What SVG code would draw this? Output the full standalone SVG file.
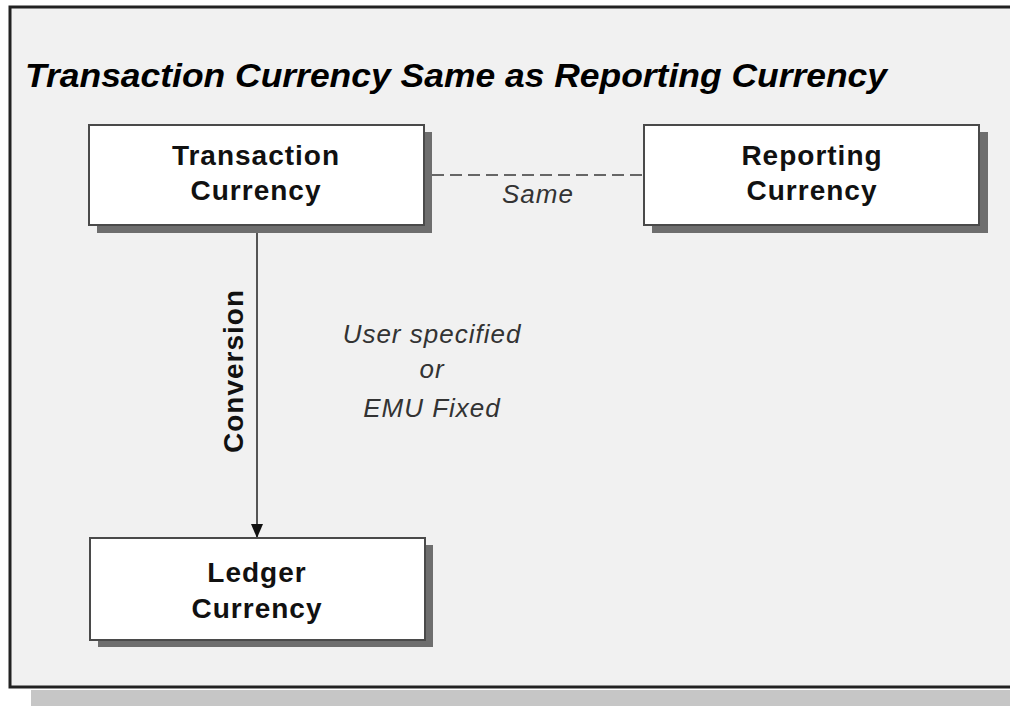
<svg xmlns="http://www.w3.org/2000/svg" width="1010" height="706" viewBox="0 0 1010 706">
<defs>
<style>
.box{fill:#ffffff;stroke:#4a4a4a;stroke-width:2}
.shadow{fill:#6e6e6e}
.lbl{font-family:"Liberation Sans",Arial,sans-serif;font-size:28px;font-weight:bold;fill:#111;text-anchor:middle;letter-spacing:1px}
.it{font-family:"Liberation Sans",Arial,sans-serif;font-size:26px;font-style:italic;fill:#333;text-anchor:middle;letter-spacing:1px}
</style>
<marker id="arr" markerWidth="14" markerHeight="14" refX="13" refY="7" orient="auto" markerUnits="userSpaceOnUse">
<path d="M0,1 L14,7 L0,13 Z" fill="#111"/>
</marker>
</defs>
<rect x="0" y="0" width="1010" height="706" fill="#ffffff"/>
<rect x="31" y="690" width="979" height="16" fill="#c6c6c6"/>
<rect x="10" y="7" width="1010" height="680" fill="#f1f1f1" stroke="#222" stroke-width="3"/>
<text x="25" y="87" font-family="'Liberation Sans',Arial,sans-serif" font-size="33" font-weight="bold" font-style="italic" fill="#000" textLength="862" lengthAdjust="spacingAndGlyphs">Transaction Currency Same as Reporting Currency</text>
<g id="connectors">
<line x1="432" y1="175" x2="644" y2="175" stroke="#666" stroke-width="2" stroke-dasharray="12,6"/>
<line x1="257" y1="225" x2="257" y2="537" stroke="#555" stroke-width="2" marker-end="url(#arr)"/>
<text class="it" x="538" y="203">Same</text>
<text class="lbl" transform="translate(243,371) rotate(-90)">Conversion</text>
<text class="it" x="432" y="343">User specified</text>
<text class="it" x="432" y="378">or</text>
<text class="it" x="432" y="417">EMU Fixed</text>
</g>
<g id="transaction">
<rect class="shadow" x="97" y="132" width="335" height="101"/>
<rect class="box" x="89" y="125" width="335" height="100"/>
<text class="lbl" x="256" y="165">Transaction</text>
<text class="lbl" x="256" y="200">Currency</text>
</g>
<g id="reporting">
<rect class="shadow" x="652" y="132" width="336" height="101"/>
<rect class="box" x="644" y="125" width="335" height="100"/>
<text class="lbl" x="812" y="165">Reporting</text>
<text class="lbl" x="812" y="200">Currency</text>
</g>
<g id="ledger">
<rect class="shadow" x="98" y="545" width="335" height="102"/>
<rect class="box" x="90" y="538" width="335" height="102"/>
<text class="lbl" x="257" y="582">Ledger</text>
<text class="lbl" x="257" y="618">Currency</text>
</g>
</svg>
